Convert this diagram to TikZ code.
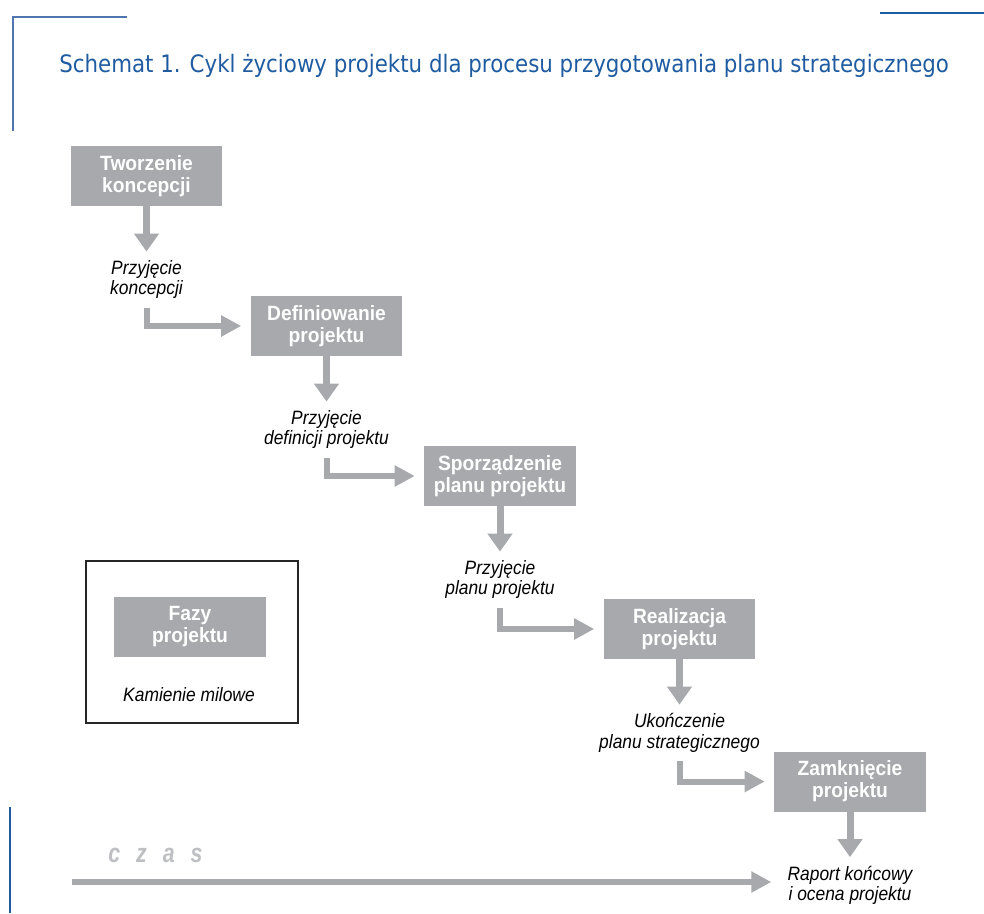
\documentclass[tikz,border=0pt]{standalone}
\usepackage{fontspec}
\setmainfont{Liberation Sans}
\newfontfamily\titlefont[FakeStretch=0.89]{DejaVu Sans}
\newfontfamily\fazafont[FakeStretch=0.93]{Liberation Sans}
\newfontfamily\milefont[FakeStretch=0.9]{Liberation Sans}
\newfontfamily\czasfont[FakeStretch=0.8]{Liberation Sans}
\usetikzlibrary{arrows.meta,positioning}
\definecolor{szary}{RGB}{167,169,172}
\definecolor{jasnoszary}{RGB}{190,191,194}
\definecolor{niebieski}{RGB}{31,91,160}
\definecolor{ramka}{RGB}{80,118,176}

\begin{document}
\begin{tikzpicture}[x=0.75pt,y=-0.75pt,
 faza/.style={fill=szary,text=white,font=\fazafont\fontsize{15.5}{16.5}\selectfont\bfseries,
 align=center,minimum width=113.5pt,minimum height=45pt,inner sep=0pt},
 kamien/.style={font=\milefont\fontsize{14.5}{15.2}\selectfont\itshape,align=center,
 inner xsep=12pt,inner ysep=6.5pt},
 strzalka/.style={szary,line width=5.25pt,-{Triangle[width=18pt,length=13.5pt]}},
 lamana/.style={szary,line width=4.5pt,-{Triangle[width=15pt,length=15pt]},shorten >=7pt}]

\useasboundingbox (0,0) rectangle (984,913);

% ramki
\draw[ramka,line width=1pt] (127,17) -- (13,17) -- (13,131);
\draw[niebieski,line width=1.5pt] (880,13) -- (984,13);
\draw[niebieski,line width=1.8pt] (10,807) -- (10,913);

\node[anchor=base west,inner sep=0pt,text=niebieski,font=\titlefont\fontsize{18}{22}\selectfont] (tytul) at (59,73)
 {Schemat 1. Cykl życiowy projektu dla procesu przygotowania planu strategicznego};

% fazy i kamienie milowe
\node[faza] (tworz) at (146.5,176) {Tworzenie\\koncepcji};
\node[kamien,below=34pt of tworz] (przyj1) {Przyjęcie\\koncepcji};

\node[faza] (defin) at (326.5,326) {Definiowanie\\projektu};
\node[kamien,below=34pt of defin] (przyj2) {Przyjęcie\\definicji projektu};

\node[faza] (sporz) at (500,476) {Sporządzenie\\planu projektu};
\node[kamien,below=34pt of sporz] (przyj3) {Przyjęcie\\planu projektu};

\node[faza] (realiz) at (679.5,629) {Realizacja\\projektu};
\node[kamien,below=34pt of realiz] (ukoncz) {Ukończenie\\planu strategicznego};

\node[faza] (zamk) at (850,781.5) {Zamknięcie\\projektu};
\node[kamien,below=34pt of zamk] (raport) {Raport końcowy\\i ocena projektu};

\draw[strzalka] (tworz) -- (przyj1);
\draw[lamana] (przyj1.south) |- (defin.west);
\draw[strzalka] (defin) -- (przyj2);
\draw[lamana] (przyj2.south) |- (sporz.west);
\draw[strzalka] (sporz) -- (przyj3);
\draw[lamana] (przyj3.south) |- (realiz.west);
\draw[strzalka] (realiz) -- (ukoncz);
\draw[lamana] (ukoncz.south) |- (zamk.west);
\draw[strzalka] (zamk) -- (raport);

% legenda
\node[draw=black!85,line width=1pt,minimum width=159pt,minimum height=121.5pt] (legenda) at (192,642) {};
\node[faza] (fazy) at (190,627) {Fazy\\projektu};
\node[kamien] (kamienie) at (189,695) {Kamienie milowe};

% os czasu
\coordinate (czas0) at (72,882);
\draw[lamana,shorten >=0pt] (czas0) -- (czas0 -| raport.west);
\node[text=jasnoszary,font=\czasfont\fontsize{20}{24}\selectfont\bfseries\itshape] (czas) at (155.5,855)
 {c\hspace{12pt}z\hspace{12pt}a\hspace{12pt}s};

\end{tikzpicture}
\end{document}
